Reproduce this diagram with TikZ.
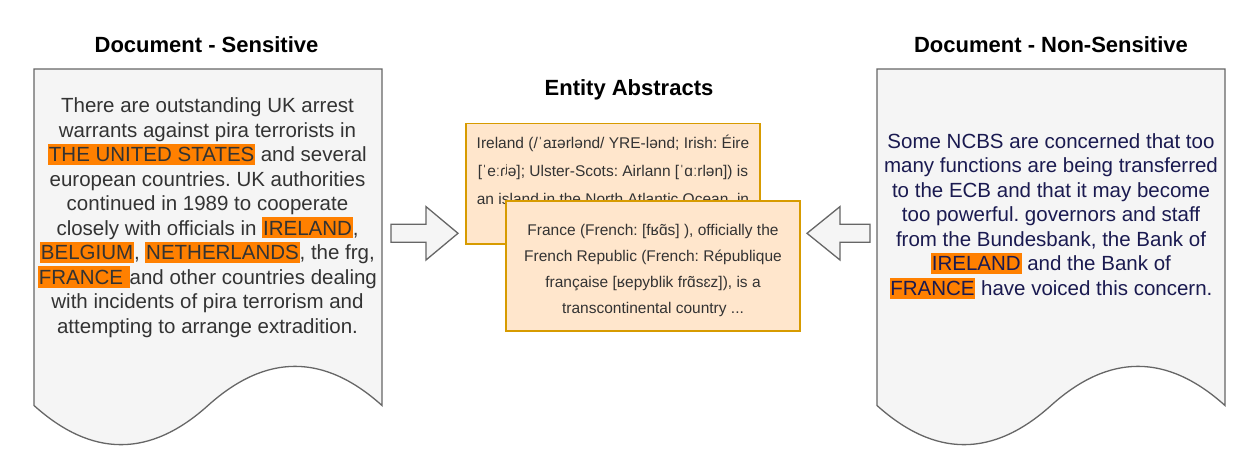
\documentclass[tikz,border=0pt]{standalone}
\usepackage{fontspec}
\setmainfont{Liberation Sans}
\usepackage{tikz}
\usetikzlibrary{positioning}
\definecolor{docfill}{HTML}{F5F5F5}
\definecolor{docline}{HTML}{666666}
\definecolor{absfill}{HTML}{FFE6CC}
\definecolor{absline}{HTML}{D79B00}
\definecolor{hlorange}{HTML}{FF8000}
\definecolor{txtgray}{HTML}{333333}
\definecolor{txtnavy}{HTML}{1A1A50}
\frenchspacing

% orange marker behind an entity name
\newcommand{\hlword}[1]{{\setlength{\fboxsep}{0pt}\colorbox{hlorange}{\rule[-0.16em]{0pt}{1.03em}\kern0.8pt#1\kern0.8pt}}}

\tikzset{
  docpage/.pic={
    \draw[docline, fill=docfill, line width=1.3pt]
      (0,0) -- (348,0) -- (348,336.5)
      .. controls (290,284.3) and (232,284.3) .. (174,336.5)
      .. controls (116,388.7) and (58,388.7) .. (0,336.5) -- cycle;
  }
}

\begin{document}
\begin{tikzpicture}[x=1pt, y=-1pt,
  title/.style={font=\fontsize{22}{26}\selectfont\bfseries, anchor=base, inner sep=0pt},
  doctext/.style={font=\fontsize{20.5}{24.55}\selectfont, align=center, anchor=base, inner sep=0pt},
  absbox/.style={draw=absline, fill=absfill, line width=1.3pt, minimum width=294pt, inner sep=0pt},
  abstext/.style={text=txtgray, align=center, anchor=base, inner sep=0pt},
  blockarrow/.style={draw=docline, fill=docfill, line width=1.3pt, line join=miter}]
  \useasboundingbox (0,0) rectangle (1259,469);

  % documents
  \pic at (34,69) {docpage};
  \pic at (877,69) {docpage};

  \node[title] (senstitle) at (206.5,52) {Document - Sensitive};
  \node[title] (nonsenstitle) at (1051,52) {Document - Non-Sensitive};
  \node[title] (abstitle) at (629,95) {Entity Abstracts};

  % base of a multi-line node = its last line
  \node[doctext, text=txtgray] (senstext) at (207.5,333.4) {%
    There are outstanding UK arrest\\
    warrants against pira terrorists in\\
    \hlword{THE UNITED STATES} and several\\
    european countries. UK authorities\\
    continued in 1989 to cooperate\\
    closely with officials in \hlword{IRELAND},\\
    \hlword{BELGIUM}, \hlword{NETHERLANDS}, the frg,\\
    \hlword{FRANCE\ }and other countries dealing\\
    with incidents of pira terrorism and\\
    attempting to arrange extradition.};

  \node[doctext, text=txtnavy] (nonsenstext) at (1051,295.5) {%
    Some NCBS are concerned that too\\
    many functions are being transferred\\
    to the ECB and that it may become\\
    too powerful. governors and staff\\
    from the Bundesbank, the Bank of\\
    \hlword{IRELAND} and the Bank of\\
    \hlword{FRANCE} have voiced this concern.};

  % entity abstracts
  \node[absbox, minimum height=120.5pt] (ireland) at (613,183.75) {};
  \node[abstext, font=\fontsize{15.5}{28}\selectfont] (irelandtext) at (613,232) {%
    Ireland (/ˈaɪərlənd/ YRE-lənd; Irish: Éire\\
    {[}ˈeːɾʲə]; Ulster-Scots: Airlann [ˈɑːrlən]) is\\
    an island in the North Atlantic Ocean, in\\
    north-western Europe ...};
  \node[absbox, minimum height=130pt] (france) at (653,266) {};
  \node[abstext, font=\fontsize{15.5}{25.8}\selectfont] (francetext) at (653,313) {%
    France (French: [fʁɑ̃s] ), officially the\\
    French Republic (French: République\\
    française [ʁepyblik frɑ̃sɛz]), is a\\
    transcontinental country ...};

  % block arrows towards the abstracts
  \draw[blockarrow] (391,224.3) -- (426,224.3) -- (426,206.6) -- (458,233.3)
    -- (426,260) -- (426,242.3) -- (391,242.3) -- cycle;
  \draw[blockarrow] (870,224.3) -- (840,224.3) -- (840,206.6) -- (807,233.3)
    -- (840,260) -- (840,242.3) -- (870,242.3) -- cycle;
\end{tikzpicture}
\end{document}
